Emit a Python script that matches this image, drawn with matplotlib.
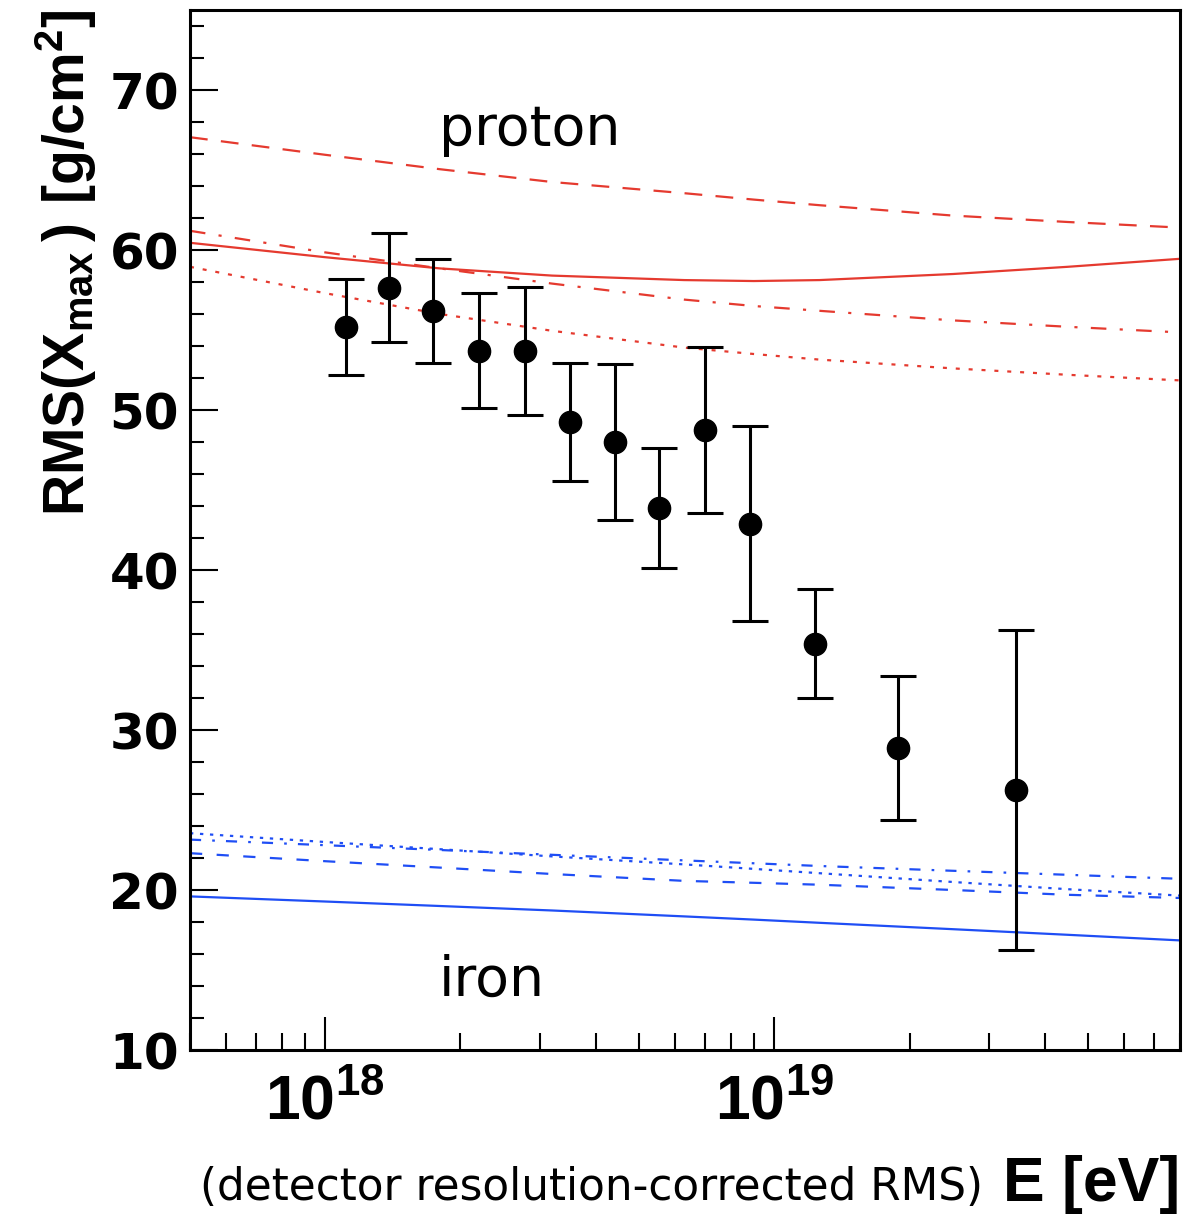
import numpy as np
import matplotlib
matplotlib.use('Agg')
from matplotlib import pyplot as plt
from matplotlib import ticker, font_manager

# measured points (energy in eV, RMS in g/cm^2)
E_data = [1.11e18, 1.39e18, 1.74e18, 2.20e18, 2.78e18, 3.50e18, 4.42e18,
          5.53e18, 6.99e18, 8.83e18, 1.23e19, 1.88e19, 3.45e19]
rms_data = [55.2, 57.65, 56.2, 53.7, 53.7, 49.25, 48.0,
            43.85, 48.75, 42.9, 35.4, 28.85, 26.25]
rms_err = [3.0, 3.4, 3.25, 3.6, 4.0, 3.7, 4.85,
           3.75, 5.2, 6.1, 3.4, 4.5, 10.0]

# model curves, read at these energies
E_model = [5e17, 1e18, 1.8e18, 3.2e18, 6.3e18, 9e18, 1.26e19, 2.5e19, 4.5e19, 8e19]
p_solid = [60.45, 59.55, 58.85, 58.4, 58.12, 58.06, 58.12, 58.5, 58.95, 59.45]
p_dashed = [67.05, 65.95, 65.05, 64.25, 63.55, 63.15, 62.8, 62.15, 61.75, 61.4]
p_dashdot = [61.2, 59.85, 58.85, 57.9, 56.9, 56.5, 56.2, 55.6, 55.2, 54.85]
p_dotted = [58.95, 57.3, 56.0, 54.95, 53.9, 53.5, 53.15, 52.6, 52.2, 51.85]
fe_solid = [19.6, 19.28, 19.0, 18.72, 18.35, 18.15, 17.95, 17.55, 17.2, 16.85]
fe_dashed = [22.3, 21.8, 21.4, 21.0, 20.57, 20.45, 20.33, 20.0, 19.7, 19.5]
fe_dashdot = [23.15, 22.8, 22.5, 22.2, 21.85, 21.67, 21.5, 21.2, 20.95, 20.7]
fe_dotted = [23.55, 23.0, 22.55, 22.1, 21.6, 21.32, 21.05, 20.5, 20.05, 19.65]

red = '#e53a2f'
blue = '#1f4ef5'

names = {f.name for f in font_manager.fontManager.ttflist}
narrow = 'Liberation Sans Narrow' if 'Liberation Sans Narrow' in names else 'Liberation Sans'

plt.rcParams['mathtext.fontset'] = 'custom'
plt.rcParams['mathtext.rm'] = narrow + ':bold'
plt.rcParams['mathtext.bf'] = 'Liberation Sans:bold'

fig = plt.figure(figsize=(11.98, 12.14), dpi=100)
ax = fig.add_axes([190 / 1198, 1 - 1050 / 1214, 990 / 1198, 1040 / 1214])

lw = 1.6
ax.plot(E_model, p_dashed, color=red, lw=lw, ls=(0, (8, 6)))
ax.plot(E_model, p_solid, color=red, lw=lw)
ax.plot(E_model, p_dashdot, color=red, lw=lw, ls=(0, (7, 6, 1.4, 6)))
ax.plot(E_model, p_dotted, color=red, lw=lw, ls=(0, (1.8, 4)))

ax.plot(E_model, fe_solid, color=blue, lw=lw)
ax.plot(E_model, fe_dashed, color=blue, lw=lw, ls=(0, (5.5, 6.5)))
ax.plot(E_model, fe_dashdot, color=blue, lw=lw, ls=(0, (5, 5, 1.2, 5)))
ax.plot(E_model, fe_dotted, color=blue, lw=lw, ls=(0, (1.5, 3)))

ax.errorbar(E_data, rms_data, yerr=rms_err, fmt='o', color='k', ms=16,
            elinewidth=2.2, capsize=13, capthick=2.2, zorder=5)

ax.set_xscale('log')
ax.set_xlim(5e17, 8e19)
ax.set_ylim(10, 75)

ax.xaxis.set_major_locator(ticker.LogLocator(base=10))
ax.xaxis.set_minor_locator(ticker.LogLocator(base=10, subs=np.arange(2, 10)))
ax.xaxis.set_minor_formatter(ticker.NullFormatter())
ax.xaxis.set_major_formatter(ticker.FuncFormatter(
    lambda v, p: r'$\mathrm{10^{%d}}$' % round(np.log10(v))))
ax.yaxis.set_major_locator(ticker.MultipleLocator(10))
ax.yaxis.set_minor_locator(ticker.MultipleLocator(2))
ax.yaxis.set_major_formatter(ticker.FuncFormatter(lambda v, p: '%d' % v))

ax.tick_params(axis='both', which='both', direction='in', top=False,
               right=False, width=1.5)
ax.tick_params(axis='x', which='major', length=24, pad=16, labelsize=45)
ax.tick_params(axis='x', which='minor', length=12)
ax.tick_params(axis='y', which='major', length=20, pad=8, labelsize=36)
ax.tick_params(axis='y', which='minor', length=10)
plt.setp(ax.get_yticklabels(), fontweight='bold', family='DejaVu Sans')

for s in ax.spines.values():
    s.set_linewidth(2.2)

ax.set_ylabel(r'$\mathbf{RMS(X_{max}\,)\ [g/cm^{2}]}$', fontsize=41, loc='top')
ax.yaxis.set_label_coords(-0.092, 1.0)

ax.text(0.343, 0.885, 'proton', transform=ax.transAxes, ha='center',
        va='center', fontsize=40, family='DejaVu Sans')
ax.text(0.305, 0.067, 'iron', transform=ax.transAxes, ha='center',
        va='center', fontsize=40, family='DejaVu Sans')

fig.text(0.985, 0.024, 'E [eV]', ha='right', va='center', fontsize=45,
         family=narrow, fontweight='bold')
fig.text(0.167, 0.0215, '(detector resolution-corrected RMS)', ha='left',
         va='center', fontsize=31.5, family='DejaVu Sans')

fig.savefig('out.png', dpi=100)
